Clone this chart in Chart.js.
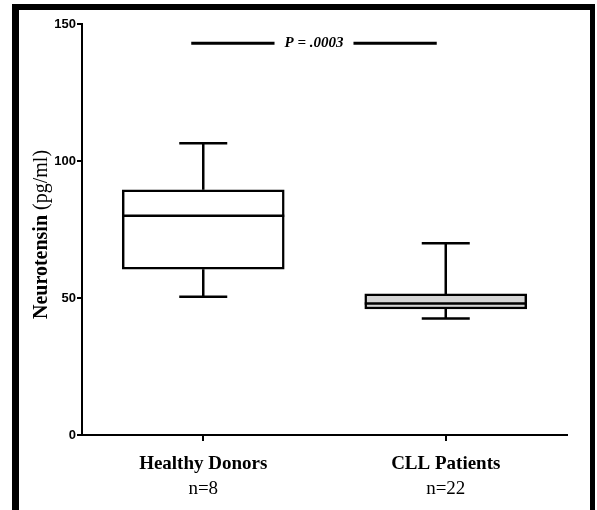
<!DOCTYPE html>
<html>
<head>
<meta charset="utf-8">
<script src="https://cdn.jsdelivr.net/npm/chart.js@4/dist/chart.umd.min.js"></script>
<style>
  body { margin: 0; background: #fff; }
</style>
</head>
<body>
<canvas id="box-chart" width="597" height="510"></canvas>
<script>
const categories = ['Healthy Donors', 'CLL Patients'];
const sampleSizes = ['n=8', 'n=22'];
const minValues = [50.5, 42.5];
const q1Values = [60.5, 46];
const medianValues = [80, 48];
const q3Values = [89.5, 51.5];
const maxValues = [106.5, 70];
const boxColors = ['#ffffff', '#d4d4d4'];
const yTicks = [0, 50, 100, 150];
const pValueText = 'P = .0003';
const pLineValue = 143;

// whiskers, caps, medians, labels and frame
const boxExtras = {
    id: 'boxExtras',
    afterDatasetsDraw(chart) {
        const ctx = chart.ctx;
        const x = chart.scales.x;
        const y = chart.scales.y;
        const bars = chart.getDatasetMeta(0).data;
        ctx.save();
        ctx.strokeStyle = '#000';
        ctx.lineWidth = 2.5;
        for (let i = 0; i < categories.length; i++) {
            const cx = x.getPixelForValue(i);
            const half = bars[i].width / 2;
            const capHalf = 24;
            ctx.beginPath();
            ctx.moveTo(cx, y.getPixelForValue(q3Values[i]));
            ctx.lineTo(cx, y.getPixelForValue(maxValues[i]));
            ctx.moveTo(cx - capHalf, y.getPixelForValue(maxValues[i]));
            ctx.lineTo(cx + capHalf, y.getPixelForValue(maxValues[i]));
            ctx.moveTo(cx, y.getPixelForValue(q1Values[i]));
            ctx.lineTo(cx, y.getPixelForValue(minValues[i]));
            ctx.moveTo(cx - capHalf, y.getPixelForValue(minValues[i]));
            ctx.lineTo(cx + capHalf, y.getPixelForValue(minValues[i]));
            ctx.moveTo(cx - half, y.getPixelForValue(medianValues[i]));
            ctx.lineTo(cx + half, y.getPixelForValue(medianValues[i]));
            ctx.stroke();
        }
        ctx.restore();
    },
    afterDraw(chart) {
        const ctx = chart.ctx;
        const x = chart.scales.x;
        const y = chart.scales.y;
        const area = chart.chartArea;
        ctx.save();
        ctx.fillStyle = '#000';
        ctx.textAlign = 'center';
        ctx.textBaseline = 'middle';

        // significance bar
        const x0 = x.getPixelForValue(0) - 12;
        const x1 = x.getPixelForValue(1) - 9;
        const py = y.getPixelForValue(pLineValue);
        const mid = (x0 + x1) / 2;
        ctx.font = 'italic bold 15px "Liberation Serif", "Times New Roman", serif';
        const tw = ctx.measureText(pValueText).width;
        ctx.fillText(pValueText, mid, py);
        ctx.strokeStyle = '#000';
        ctx.lineWidth = 3;
        ctx.beginPath();
        ctx.moveTo(x0, py);
        ctx.lineTo(mid - tw / 2 - 10, py);
        ctx.moveTo(mid + tw / 2 + 10, py);
        ctx.lineTo(x1, py);
        ctx.stroke();

        // category labels
        for (let i = 0; i < categories.length; i++) {
            const cx = x.getPixelForValue(i);
            ctx.font = 'bold 19px "Liberation Serif", "Times New Roman", serif';
            ctx.fillText(categories[i], cx, area.bottom + 29);
            ctx.font = '19px "Liberation Serif", "Times New Roman", serif';
            ctx.fillText(sampleSizes[i], cx, area.bottom + 54);
        }

        // y axis title, bold word then plain unit
        const boldPart = 'Neurotensin';
        const plainPart = ' (pg/ml)';
        ctx.translate(42, (area.top + area.bottom) / 2 + 5);
        ctx.rotate(-Math.PI / 2);
        ctx.font = 'bold 20px "Liberation Serif", "Times New Roman", serif';
        const w1 = ctx.measureText(boldPart).width;
        ctx.font = '20px "Liberation Serif", "Times New Roman", serif';
        const w2 = ctx.measureText(plainPart).width;
        ctx.textAlign = 'left';
        ctx.font = 'bold 20px "Liberation Serif", "Times New Roman", serif';
        ctx.fillText(boldPart, -(w1 + w2) / 2, 0);
        ctx.font = '20px "Liberation Serif", "Times New Roman", serif';
        ctx.fillText(plainPart, -(w1 + w2) / 2 + w1, 0);
        ctx.restore();

        // outer frame
        ctx.save();
        ctx.fillStyle = '#000';
        ctx.fillRect(12, 4, 583, 6);
        ctx.fillRect(12, 4, 7, 506);
        ctx.fillRect(590, 4, 5, 506);
        ctx.restore();
    }
};

const ctx = document.getElementById('box-chart');

new Chart(ctx, {
    type: 'bar',
    data: {
        labels: categories,
        datasets: [{
            data: categories.map((c, i) => [q1Values[i], q3Values[i]]),
            backgroundColor: boxColors,
            borderColor: '#000',
            borderWidth: 2.5,
            borderSkipped: false,
            barThickness: 162
        }]
    },
    options: {
        responsive: false,
        animation: false,
        devicePixelRatio: 1,
        layout: {
            padding: { left: 0, right: 30, top: 24, bottom: 0 }
        },
        plugins: {
            legend: { display: false },
            tooltip: { enabled: false }
        },
        scales: {
            x: {
                ticks: { display: false },
                grid: {
                    offset: false,
                    drawOnChartArea: false,
                    drawTicks: true,
                    tickLength: 6,
                    color: '#000',
                    lineWidth: 2
                },
                border: { color: '#000', width: 2 },
                afterFit: s => { s.height = 75; }
            },
            y: {
                min: 0,
                max: 150,
                afterBuildTicks: s => { s.ticks = yTicks.map(v => ({ value: v })); },
                ticks: {
                    padding: 1,
                    color: '#000',
                    font: { family: '"Liberation Sans", Arial, sans-serif', size: 13, weight: 'bold' }
                },
                grid: {
                    drawOnChartArea: false,
                    drawTicks: true,
                    tickLength: 5,
                    color: '#000',
                    lineWidth: 2
                },
                border: { color: '#000', width: 2 },
                afterFit: s => { s.width = 82; }
            }
        }
    },
    plugins: [boxExtras]
});
</script>
</body>
</html>
